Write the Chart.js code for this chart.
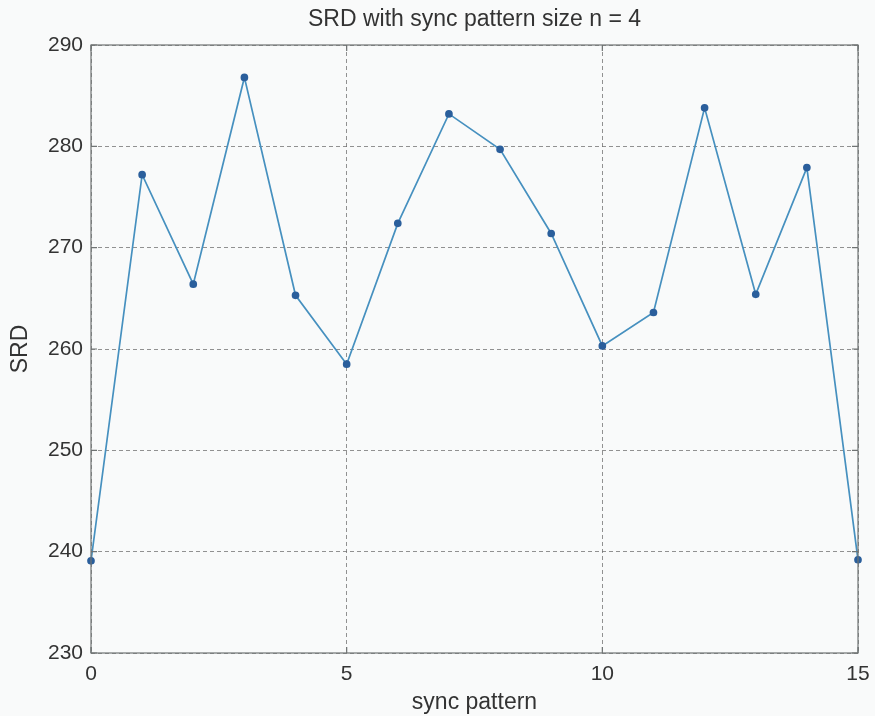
<!DOCTYPE html>
<html>
<head>
<meta charset="utf-8">
<script src="https://cdn.jsdelivr.net/npm/chart.js@4"></script>
<style>
  html, body { margin: 0; padding: 0; background: #f9fafa; }
  #wrap { width: 875px; height: 716px; }
</style>
</head>
<body>
<div id="wrap"><canvas id="srdChart"></canvas></div>
<script>
// SRD value for each sync pattern (n = 4)
var patterns = [0, 1, 2, 3, 4, 5, 6, 7, 8, 9, 10, 11, 12, 13, 14, 15];
var srdValues = [239.1, 277.2, 266.4, 286.8, 265.3, 258.5, 272.4, 283.2,
                 279.7, 271.4, 260.3, 263.6, 283.8, 265.4, 277.9, 239.2];
var xTicks = [0, 5, 10, 15];
var yTicks = [230, 240, 250, 260, 270, 280, 290];
var chartTitle = "SRD with sync pattern size n = 4";

var textColor = "#333";
var gridColor = "rgba(110, 110, 110, 0.75)";
var fontFamily = "Liberation Sans, Arial, sans-serif";

// solid frame round the plot, small inward tick marks, title centred over the plot
var frame = {
  id: "frame",
  afterDraw: function (chart) {
    var a = chart.chartArea;
    var ctx = chart.ctx;
    ctx.save();
    ctx.strokeStyle = "#6f7373";
    ctx.lineWidth = 1.2;
    ctx.strokeRect(a.left, a.top, a.right - a.left, a.bottom - a.top);
    var len = 6;
    chart.scales.y.ticks.forEach(function (t) {
      var py = chart.scales.y.getPixelForValue(t.value);
      ctx.beginPath();
      ctx.moveTo(a.left, py); ctx.lineTo(a.left + len, py);
      ctx.moveTo(a.right, py); ctx.lineTo(a.right - len, py);
      ctx.stroke();
    });
    chart.scales.x.ticks.forEach(function (t) {
      var px = chart.scales.x.getPixelForValue(t.value);
      ctx.beginPath();
      ctx.moveTo(px, a.bottom); ctx.lineTo(px, a.bottom - len);
      ctx.moveTo(px, a.top); ctx.lineTo(px, a.top + len);
      ctx.stroke();
    });

    ctx.fillStyle = textColor;
    ctx.font = "23px " + fontFamily;
    ctx.textAlign = "center";
    ctx.textBaseline = "alphabetic";
    ctx.fillText(chartTitle, (a.left + a.right) / 2, 26);
    ctx.restore();
  }
};

var points = patterns.map(function (p, i) {
  return { x: p, y: srdValues[i] };
});

new Chart(document.getElementById("srdChart"), {
  type: "line",
  data: {
    datasets: [{
      label: "SRD",
      data: points,
      borderColor: "#4690bf",
      borderWidth: 1.7,
      pointBackgroundColor: "#2b5f9c",
      pointBorderColor: "#2b5f9c",
      pointRadius: 3,
      tension: 0,
      clip: false
    }]
  },
  options: {
    responsive: true,
    maintainAspectRatio: false,
    animation: false,
    layout: { padding: { left: 0, right: 17, top: 45, bottom: 0 } },
    plugins: {
      legend: { display: false },
      tooltip: { enabled: false },
      title: { display: false }
    },
    scales: {
      x: {
        type: "linear",
        min: 0,
        max: 15,
        afterBuildTicks: function (scale) {
          scale.ticks = xTicks.map(function (v) { return { value: v }; });
        },
        afterFit: function (scale) {
          scale.height = 63;
          // end labels may hang past the plot edges
          scale.paddingLeft = 0;
          scale.paddingRight = 0;
        },
        grid: {
          color: gridColor,
          lineWidth: 1,
          drawTicks: false
        },
        border: { display: false, dash: [4, 3] },
        ticks: {
          color: textColor,
          padding: 9,
          maxRotation: 0,
          font: { family: fontFamily, size: 21 }
        },
        title: {
          display: true,
          text: "sync pattern",
          color: textColor,
          font: { family: fontFamily, size: 23 },
          padding: { top: 0, bottom: 0 }
        }
      },
      y: {
        min: 230,
        max: 290,
        afterBuildTicks: function (scale) {
          scale.ticks = yTicks.map(function (v) { return { value: v }; });
        },
        afterFit: function (scale) { scale.width = 91; },
        grid: {
          color: gridColor,
          lineWidth: 1,
          drawTicks: false
        },
        border: { display: false, dash: [4, 3] },
        ticks: {
          color: textColor,
          padding: 8,
          font: { family: fontFamily, size: 21 }
        },
        title: {
          display: true,
          text: "SRD",
          color: textColor,
          font: { family: fontFamily, size: 23 },
          padding: { top: 7, bottom: 0 }
        }
      }
    }
  },
  plugins: [frame]
});
</script>
</body>
</html>
